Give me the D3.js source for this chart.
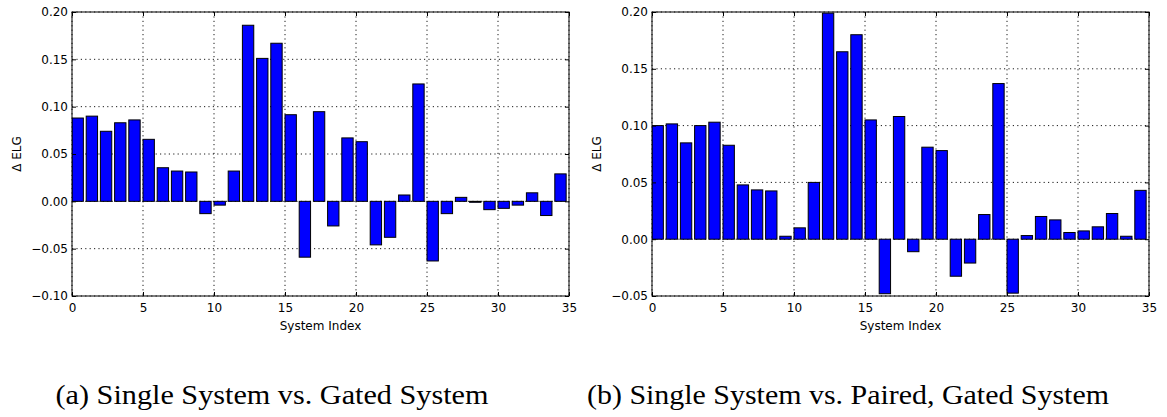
<!DOCTYPE html>
<html>
<head>
<meta charset="utf-8">
<script src="https://cdn.jsdelivr.net/npm/d3@7"></script>
<style>
  html, body { margin: 0; padding: 0; background: #fff; }
  svg { display: block; }
</style>
</head>
<body>
<svg id="chart" width="1167" height="417"></svg>
<script>
// ---- data ----
const systemIndex = [0,1,2,3,4,5,6,7,8,9,10,11,12,13,14,15,16,17,18,19,20,21,22,23,24,25,26,27,28,29,30,31,32,33,34];

const gatedDelta = [
  0.088, 0.090, 0.074, 0.083, 0.086, 0.0655, 0.0355, 0.032, 0.031, -0.013,
  -0.004, 0.032, 0.186, 0.151, 0.167, 0.0915, -0.059, 0.0947, -0.026, 0.067,
  0.063, -0.046, -0.038, 0.0067, 0.124, -0.063, -0.013, 0.0042, -0.001, -0.0088,
  -0.0074, -0.004, 0.009, -0.015, 0.029
];

const pairedGatedDelta = [
  0.100, 0.1015, 0.0848, 0.100, 0.103, 0.0827, 0.0478, 0.0434, 0.0425, 0.0026,
  0.010, 0.050, 0.199, 0.165, 0.180, 0.105, -0.048, 0.108, -0.011, 0.081,
  0.078, -0.0326, -0.021, 0.0217, 0.137, -0.0475, 0.0032, 0.020, 0.017, 0.0059,
  0.0073, 0.0109, 0.0226, 0.0026, 0.043
];

const xTicks = [0, 5, 10, 15, 20, 25, 30, 35];
const yTicksA = [-0.10, -0.05, 0.00, 0.05, 0.10, 0.15, 0.20];
const yTicksB = [-0.05, 0.00, 0.05, 0.10, 0.15, 0.20];

const xLabel = "System Index";
const yLabel = "\u0394 ELG";
const captions = ["(a) Single System vs. Gated System", "(b) Single System vs. Paired, Gated System"];

// ---- layout ----
const panels = [
  { values: gatedDelta, yTicks: yTicksA, yDomain: [-0.10, 0.20], left: 72, right: 569, top: 12, bottom: 296, yLabelX: 17, caption: captions[0], captionX: 272, captionW: 433 },
  { values: pairedGatedDelta, yTicks: yTicksB, yDomain: [-0.05, 0.20], left: 652, right: 1149, top: 12, bottom: 296, yLabelX: 597, caption: captions[1], captionX: 848, captionW: 522 }
];

const svg = d3.select("#chart");
const fmt = v => d3.format(".2f")(v).replace("-", "\u2212");
const font = "'DejaVu Sans', sans-serif";
const barWidth = 0.8;
const tickLen = 4;

panels.forEach((p, pi) => {
  const x = d3.scaleLinear().domain([0, 35]).range([p.left, p.right]);
  const y = d3.scaleLinear().domain(p.yDomain).range([p.bottom, p.top]);
  const g = svg.append("g");

  const clipId = "clip" + pi;
  svg.append("clipPath").attr("id", clipId)
    .append("rect").attr("x", p.left).attr("y", p.top)
    .attr("width", p.right - p.left).attr("height", p.bottom - p.top);

  // grid
  const grid = g.append("g").attr("stroke", "#000").attr("stroke-width", 0.9)
    .attr("stroke-dasharray", "1.2,3.2").attr("fill", "none");
  xTicks.forEach(t => {
    grid.append("line").attr("x1", x(t)).attr("x2", x(t)).attr("y1", p.top).attr("y2", p.bottom);
  });
  p.yTicks.forEach(t => {
    grid.append("line").attr("x1", p.left).attr("x2", p.right).attr("y1", y(t)).attr("y2", y(t));
  });

  // bars
  g.append("g").attr("clip-path", `url(#${clipId})`)
    .selectAll("rect").data(systemIndex).join("rect")
    .attr("x", i => x(i))
    .attr("width", i => x(i + barWidth) - x(i))
    .attr("y", i => y(Math.max(0, p.values[i])))
    .attr("height", i => Math.abs(y(p.values[i]) - y(0)))
    .attr("fill", "#0000ff")
    .attr("stroke", "#000")
    .attr("stroke-width", 1);

  // axes with inward ticks via d3 axes
  const axB = d3.axisBottom(x).tickValues(xTicks).tickSize(-tickLen).tickPadding(8).tickFormat(d3.format("d"));
  const axT = d3.axisTop(x).tickValues(xTicks).tickSize(-tickLen).tickFormat("");
  const axL = d3.axisLeft(y).tickValues(p.yTicks).tickSize(-tickLen).tickPadding(8).tickFormat(fmt);
  const axR = d3.axisRight(y).tickValues(p.yTicks).tickSize(-tickLen).tickFormat("");

  const gb = g.append("g").attr("transform", `translate(0,${p.bottom})`).call(axB);
  const gt = g.append("g").attr("transform", `translate(0,${p.top})`).call(axT);
  const gl = g.append("g").attr("transform", `translate(${p.left},0)`).call(axL);
  const gr = g.append("g").attr("transform", `translate(${p.right},0)`).call(axR);

  [gb, gt, gl, gr].forEach(a => {
    a.select(".domain").remove();
    a.selectAll(".tick line").attr("stroke", "#000").attr("stroke-width", 1);
    a.selectAll("text").attr("font-family", font).attr("font-size", 12).attr("fill", "#000");
  });
  gb.selectAll("text").attr("dy", "0.71em").attr("y", 7);
  gl.selectAll("text").attr("x", -4);

  // frame
  g.append("rect").attr("x", p.left).attr("y", p.top)
    .attr("width", p.right - p.left).attr("height", p.bottom - p.top)
    .attr("fill", "none").attr("stroke", "#000").attr("stroke-width", 1);

  // labels
  g.append("text").attr("x", (p.left + p.right) / 2).attr("y", 330)
    .attr("text-anchor", "middle").attr("font-family", font).attr("font-size", 12)
    .text(xLabel);
  g.append("text").attr("transform", `translate(${p.yLabelX},${(p.top + p.bottom) / 2}) rotate(-90)`)
    .attr("text-anchor", "middle").attr("dy", "0.35em").attr("font-family", font).attr("font-size", 12)
    .text(yLabel);

  // caption
  g.append("text").attr("x", p.captionX - p.captionW / 2).attr("y", 404)
    .attr("font-family", "'Liberation Serif', 'DejaVu Serif', serif").attr("font-size", 27)
    .attr("textLength", p.captionW).attr("lengthAdjust", "spacingAndGlyphs")
    .text(p.caption);
});
</script>
</body>
</html>
